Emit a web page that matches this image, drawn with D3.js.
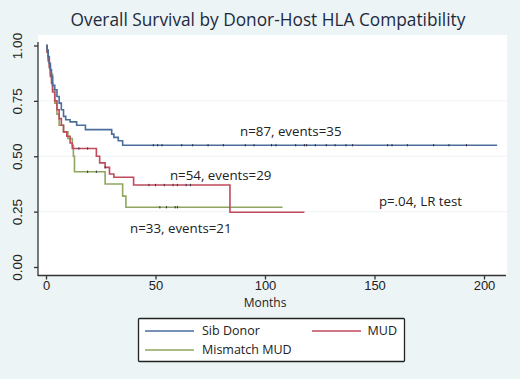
<!DOCTYPE html>
<html><head><meta charset="utf-8">
<script src="https://cdn.jsdelivr.net/npm/d3@7"></script>
<style>body{margin:0;background:#edf4f5;} svg{display:block;font-family:"Open Sans",sans-serif;}</style>
</head><body><svg id="c" width="520" height="379"></svg>
<script>
const title = "Overall Survival by Donor-Host HLA Compatibility";
const xTicks = [0, 50, 100, 150, 200];
const yTicks = [0, 0.25, 0.5, 0.75, 1];
const yTickLabels = ["0.00", "0.25", "0.50", "0.75", "1.00"];
const seriesNames = ["Sib Donor", "MUD", "Mismatch MUD"];
const sibTimes = [0,0.5,1,1.5,2,2.5,3,4,5,6,7,8,9,11,14,18,30,31,33,35,206];
const sibSurv  = [1,0.98,0.95,0.92,0.89,0.86,0.82,0.80,0.77,0.74,0.71,0.68,0.665,0.655,0.64,0.62,0.60,0.585,0.57,0.55,0.55];
const sibCens  = [49,51,53,62,67,74,81,91,95,103,105,114,119,123,118,128,132,137,140,156,158,165,177,184,192];
const mudTimes = [0,0.5,1,1.5,2,2.5,3,4,5,6,7,8,9.5,11,12,23,24.5,27,29,31,40,84,118];
const mudSurv  = [1,0.97,0.93,0.90,0.86,0.83,0.79,0.75,0.71,0.67,0.64,0.61,0.59,0.56,0.535,0.50,0.47,0.45,0.42,0.405,0.37,0.247,0.247];
const mudCens  = [15,19,27,47,50,54,58,60,64,66];
const mmTimes  = [0,0.5,1,1.5,2,3,4,5,6,8,10,12,12.5,13,27,35,36.5,108];
const mmSurv   = [1,0.97,0.94,0.91,0.87,0.80,0.74,0.69,0.64,0.61,0.58,0.55,0.50,0.43,0.375,0.32,0.27,0.27];
const mmCens   = [19,23,52,55,59,60];
const colors = ["#4a6d9c", "#c04a5c", "#8ea660"];
const annotations = [
  {text:"n=87, events=35", t:88.6, s:0.591},
  {text:"n=54, events=29", t:56.6, s:0.393},
  {text:"n=33, events=21", t:38.4, s:0.153},
  {text:"p=.04, LR test", t:152, s:0.275}
];

const svg = d3.select("#c");
const x = d3.scaleLinear().domain([0,200]).range([46,484]);
const y = d3.scaleLinear().domain([0,1]).range([267,45.5]);

// plot region
svg.append("rect").attr("x",38).attr("y",35).attr("width",469).attr("height",240).attr("fill","#fff");
// gridlines
svg.selectAll(".grid").data(yTicks.filter(d=>d>0&&d<1)).enter().append("line")
  .attr("x1",38).attr("x2",507).attr("y1",d=>y(d)).attr("y2",d=>y(d))
  .attr("stroke","#eef3f3").attr("stroke-width",1);

// axes
const yAxis = d3.axisLeft(y).tickValues(yTicks).tickFormat((d,i)=>yTickLabels[i]).tickSize(4);
const gy = svg.append("g").attr("transform","translate(38,0)").call(yAxis);
gy.select(".domain").attr("d","M0,42V276");
gy.selectAll(".tick text").attr("transform","translate(-16,0) rotate(-90)").attr("x",0).attr("y",0).attr("dy","0")
  .attr("text-anchor","middle").style("font-size","13.5px").attr("fill","#222");
const xAxis = d3.axisBottom(x).tickValues(xTicks).tickSize(4).tickPadding(1);
const gx = svg.append("g").attr("transform","translate(0,275.5)").call(xAxis);
gx.select(".domain").attr("d","M38,0H506");
gx.selectAll("text").style("font-size","13px").attr("fill","#222");
svg.selectAll(".domain, .tick line").attr("stroke","#333").attr("stroke-width",1.3);

svg.append("text").attr("x",265).attr("y",307).attr("text-anchor","middle").style("font-size","12px").attr("fill","#222").text("Months");
svg.append("text").attr("x",268).attr("y",26).attr("text-anchor","middle").style("font-size","17.3px").attr("fill","#1c2a3e").text(title);

// curves
const series = [
  {t:sibTimes, s:sibSurv, c:sibCens},
  {t:mudTimes, s:mudSurv, c:mudCens},
  {t:mmTimes, s:mmSurv, c:mmCens}
];
const line = d3.line().x(d=>x(d[0])).y(d=>y(d[1])).curve(d3.curveStepAfter);
function survAt(sr,t){let v=1;for(let i=0;i<sr.t.length;i++){if(sr.t[i]<=t)v=sr.s[i];}return v;}
[2,1,0].forEach(i=>{
  const sr = series[i];
  svg.append("path").datum(sr.t.map((t,k)=>[t,sr.s[k]])).attr("d",line)
    .attr("fill","none").attr("stroke",colors[i]).attr("stroke-width",1.6);
  svg.append("g").selectAll("line").data(sr.c).enter().append("line")
    .attr("x1",d=>x(d)).attr("x2",d=>x(d)).attr("y1",d=>y(survAt(sr,d))-1.2).attr("y2",d=>y(survAt(sr,d))+1.2)
    .attr("stroke","#334").attr("stroke-width",1);
});

// annotations
svg.selectAll(".ann").data(annotations).enter().append("text")
  .attr("x",d=>x(d.t)).attr("y",d=>y(d.s)).style("font-size","13.3px").attr("fill","#222").text(d=>d.text);

// legend
const lg = svg.append("g");
lg.append("rect").attr("x",138.5).attr("y",318.5).attr("width",266).attr("height",43).attr("fill","#fff").attr("stroke","#222").attr("stroke-width",1.3).attr("rx",1);
const lpos = [[145,331],[312,331],[145,350]];
seriesNames.forEach((n,i)=>{
  lg.append("line").attr("x1",lpos[i][0]).attr("x2",lpos[i][0]+49).attr("y1",lpos[i][1]).attr("y2",lpos[i][1]).attr("stroke",colors[i]).attr("stroke-width",1.6);
  lg.append("text").attr("x", i==1 ? 397 : lpos[i][0]+57).attr("y",lpos[i][1]+4).attr("text-anchor", i==1?"end":"start").style("font-size","12.5px").attr("fill","#222").text(n);
});
</script></body></html>
